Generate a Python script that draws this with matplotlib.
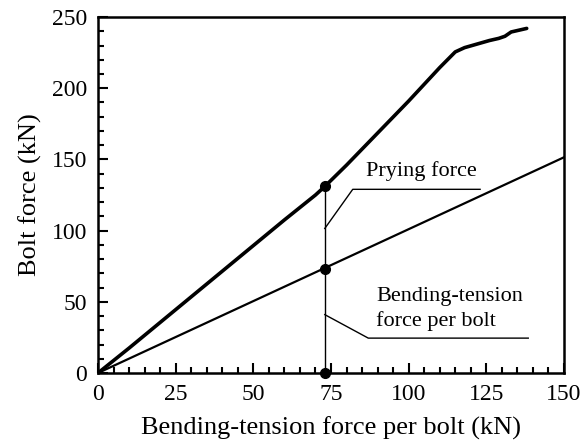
import matplotlib
matplotlib.use('Agg')
import matplotlib.pyplot as plt
from matplotlib.ticker import MultipleLocator

# bolt force (thick curve)
bolt_x = [0, 10, 20, 30, 40, 50, 60, 70, 73, 80, 90, 100, 110, 115, 118, 122, 126, 129, 131, 133, 136, 138]
bolt_y = [0, 17.5, 35.5, 53.5, 71.5, 89.5, 107.5, 125, 131, 146, 168.5, 191, 214.5, 225.5, 228.5, 231, 233.5, 235, 236.5, 239.5, 241, 242]

# bending-tension force per bolt (thin line)
bend_x = [0, 150]
bend_y = [0, 151.5]

# marked load level
mark_x = 73
mark_y = [0, 73, 131]

xticks = [0, 25, 50, 75, 100, 125, 150]
yticks = [0, 50, 100, 150, 200, 250]

plt.rcParams['font.family'] = ['Liberation Serif', 'DejaVu Serif']

fig = plt.figure(figsize=(5.81, 4.48), dpi=100)
ax = fig.add_axes([0.1687, 0.1674, 0.8020, 0.7946])

ax.plot(bolt_x, bolt_y, color='black', lw=2.6, solid_capstyle='round')
ax.plot(bend_x, bend_y, color='black', lw=1.6)
ax.plot([mark_x, mark_x], [0, mark_y[-1]], color='black', lw=1.0)
ax.plot([mark_x]*3, mark_y, 'o', color='black', ms=7, clip_on=False, zorder=5)

# leader lines for the labels
ax.plot([mark_x, 82, 123], [101.5, 129, 129], color='black', lw=1.0)
ax.plot([mark_x, 87, 138.5], [41, 24.5, 24.5], color='black', lw=1.0)
ax.text(104, 142, 'Prying force', fontsize=16, ha='center', va='center')
ax.text(89.5, 45, 'Bending-tension\nforce per bolt', fontsize=16, ha='left', va='center',
        linespacing=1.3)

ax.set_xlim(0, 150)
ax.set_ylim(0, 250)
ax.set_xticks(xticks)
ax.set_yticks(yticks)
ax.xaxis.set_minor_locator(MultipleLocator(5))
ax.yaxis.set_minor_locator(MultipleLocator(10))
ax.tick_params(which='both', direction='in', top=False, right=False, width=1.5)
ax.tick_params(which='major', length=7, labelsize=17, pad=8)
ax.tick_params(which='minor', length=4)

for s in ax.spines.values():
    s.set_linewidth(1.8)

ax.set_xlabel('Bending-tension force per bolt (kN)', fontsize=19, labelpad=8)
ax.set_ylabel('Bolt force (kN)', fontsize=19, labelpad=7)

fig.savefig('out.png', dpi=100)
